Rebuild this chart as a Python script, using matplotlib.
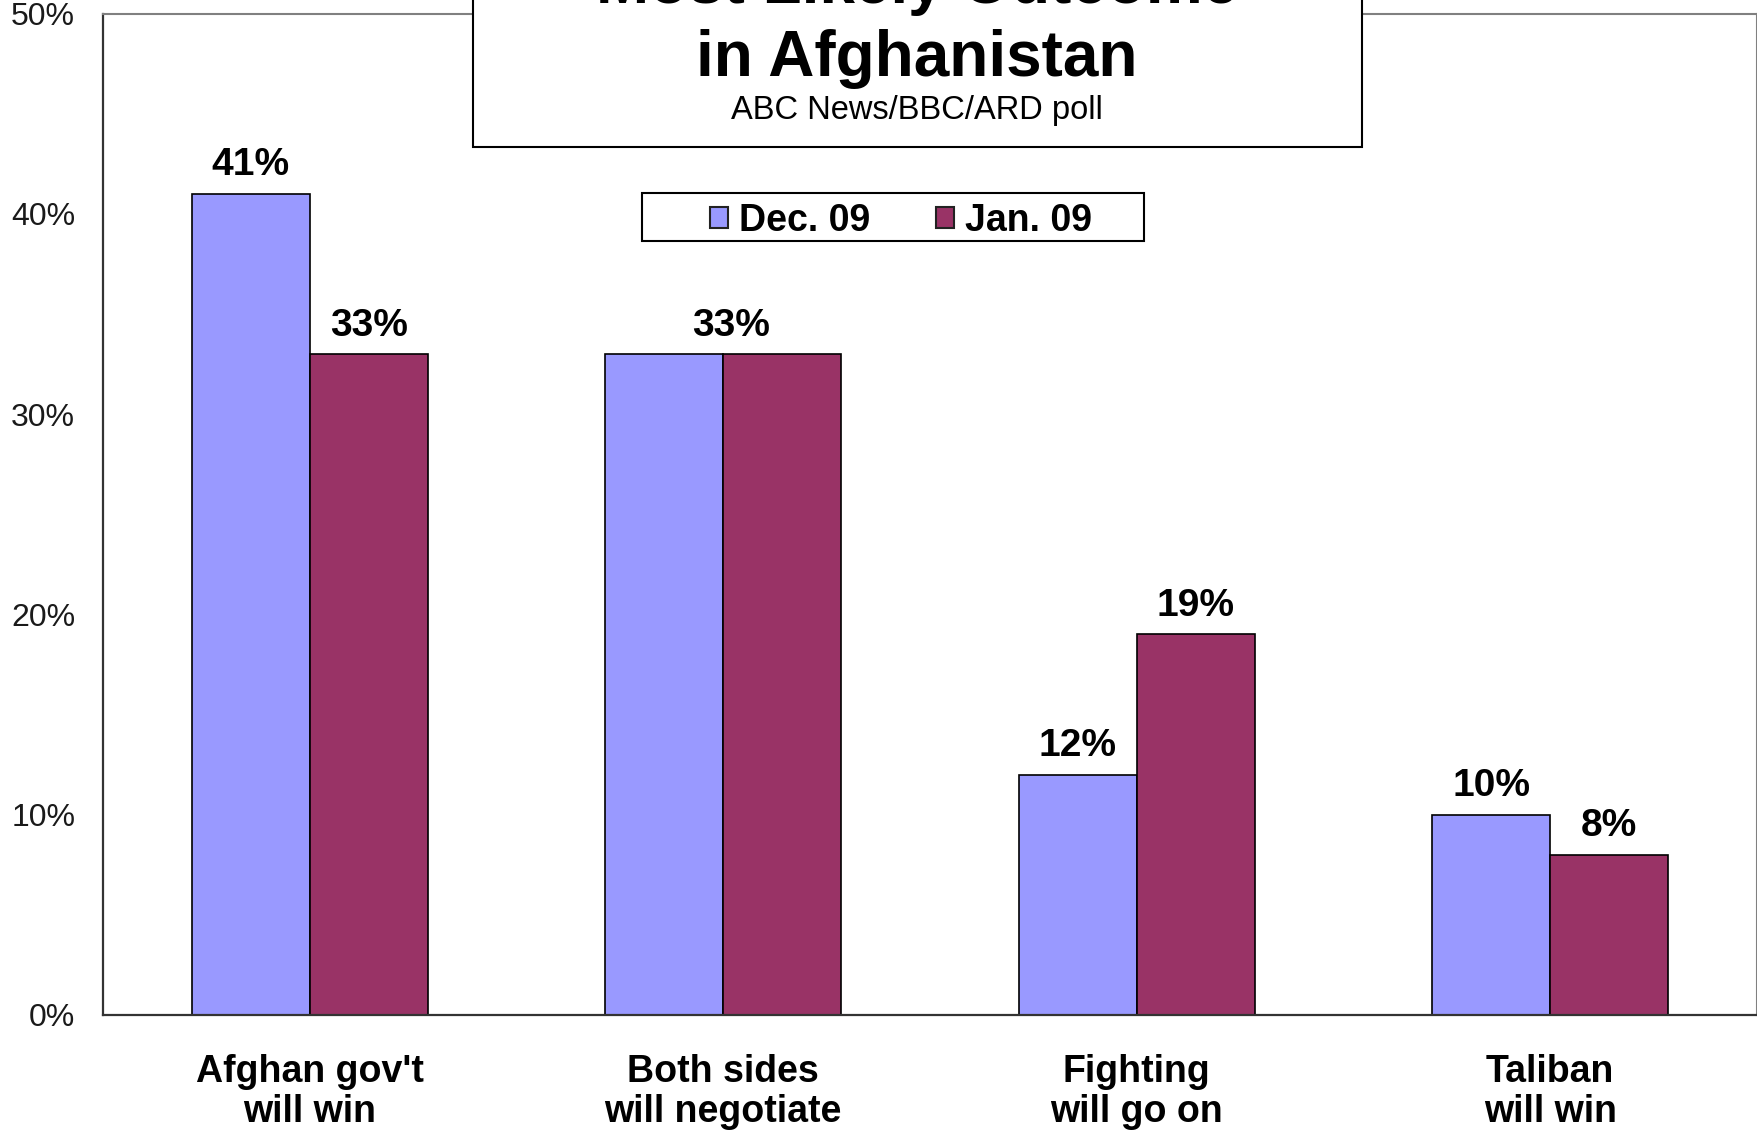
import matplotlib
matplotlib.use("Agg")
import matplotlib.pyplot as plt
from matplotlib.patches import Rectangle, Patch
import numpy as np

plt.rcParams['font.family'] = ['Liberation Sans', 'DejaVu Sans']

categories = ["Afghan gov't\nwill win", "Both sides\nwill negotiate", "Fighting\nwill go on", "Taliban\nwill win"]
series_names = ["Dec. 09", "Jan. 09"]
dec09 = [41, 33, 12, 10]
jan09 = [33, 33, 19, 8]
yticks = [0, 10, 20, 30, 40, 50]
title_line1 = "Most Likely Outcome"
title_line2 = "in Afghanistan"
subtitle = "ABC News/BBC/ARD poll"

col_dec = "#9999FF"
col_jan = "#993366"

W, H = 1758, 1131
fig = plt.figure(figsize=(W / 100, H / 100), dpi=100)
fig.patch.set_facecolor("white")

left, right, top, bottom = 103, 1757, 13.5, 1015
ax = fig.add_axes([left / W, 1 - bottom / H, (right - left) / W, (bottom - top) / H])

x = np.arange(len(categories))
bw = 1 / 3.5
b1 = ax.bar(x - bw / 2, dec09, bw, color=col_dec, edgecolor="black", linewidth=1.2, zorder=2)
b2 = ax.bar(x + bw / 2, jan09, bw, color=col_jan, edgecolor="black", linewidth=1.2, zorder=2)

lab_kw = dict(textcoords="offset points", ha="center", va="baseline",
              fontsize=28, fontweight="bold", color="black")
for i, (r1, r2, v1, v2) in enumerate(zip(b1, b2, dec09, jan09)):
    if v1 == v2:
        # overlapping labels: shown once, centred on the group
        ax.annotate(f"{v1}%", (i + 0.02, v1), xytext=(0, 13.2), **lab_kw)
    else:
        ax.annotate(f"{v1}%", (r1.get_x() + r1.get_width() / 2, v1), xytext=(0, 13.2), **lab_kw)
        ax.annotate(f"{v2}%", (r2.get_x() + r2.get_width() / 2, v2), xytext=(0, 13.2), **lab_kw)

ax.set_xlim(-0.5, len(categories) - 0.5)
ax.set_ylim(0, 50)
ax.set_yticks(yticks)
ax.set_yticklabels([f"{t}%" for t in yticks], fontsize=23, color="#1a1a1a")
ax.set_xticks(x)
ax.set_xticklabels(categories, fontsize=27, fontweight="bold", linespacing=1.14)
ax.tick_params(axis="y", length=0, pad=20)
ax.tick_params(axis="x", length=0, pad=28)

for s in ("left", "bottom"):
    ax.spines[s].set_color("#333333")
    ax.spines[s].set_linewidth(1.6)
for s in ("top", "right"):
    ax.spines[s].set_color("#808080")
    ax.spines[s].set_linewidth(1.5)

# Title box
fig.add_artist(Rectangle((473 / W, 1 - 147 / H), (1362 - 473) / W, 0.3,
                         transform=fig.transFigure, facecolor="white",
                         edgecolor="black", linewidth=1.5, zorder=5))
cx = 917 / W
fig.text(cx, 1 - 3.5 / H, title_line1, ha="center", va="baseline",
         fontsize=46, fontweight="bold", zorder=6)
fig.text(cx, 1 - 76 / H, title_line2, ha="center", va="baseline",
         fontsize=46, fontweight="bold", zorder=6)
fig.text(cx, 1 - 110 / H, subtitle, ha="center", va="center",
         fontsize=23.5, zorder=6)

# Legend box
fig.add_artist(Rectangle((642 / W, 1 - 241 / H), (1144 - 642) / W, 48 / H,
                         transform=fig.transFigure, facecolor="white",
                         edgecolor="black", linewidth=1.5, zorder=5))
handles = [Patch(facecolor=col_dec, edgecolor="#222222", linewidth=1.5),
           Patch(facecolor=col_jan, edgecolor="#222222", linewidth=1.5)]
leg = fig.legend(handles, series_names, loc="center",
                 bbox_to_anchor=(901 / W, 1 - 221 / H), ncol=2, frameon=False,
                 prop={"size": 27, "weight": "bold"}, handlelength=0.48,
                 handleheight=0.48, handletextpad=0.28, columnspacing=1.76,
                 borderpad=0.1)
leg.set_zorder(7)

fig.savefig("out.png", dpi=100)
